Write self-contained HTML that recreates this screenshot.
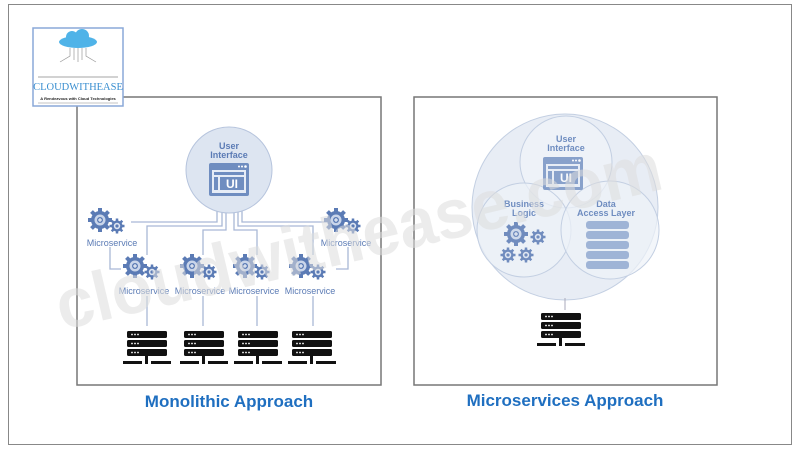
<!DOCTYPE html>
<html><head><meta charset="utf-8"><style>
html,body{margin:0;padding:0;background:#fff;width:800px;height:451px;overflow:hidden}
svg{display:block}
</style></head><body>
<svg width="800" height="451" viewBox="0 0 800 451" xmlns="http://www.w3.org/2000/svg" font-family="Liberation Sans, sans-serif">
<defs>
<g id="gb">
<circle r="9" fill="#5b7bb5"/>
<g stroke="#5b7bb5" stroke-width="4">
<line x1="0" y1="-12" x2="0" y2="12"/><line x1="-12" y1="0" x2="12" y2="0"/>
<line x1="-8.5" y1="-8.5" x2="8.5" y2="8.5"/><line x1="-8.5" y1="8.5" x2="8.5" y2="-8.5"/>
</g>
<circle r="5.5" fill="#c9d5ea"/><circle r="3" fill="#5b7bb5"/>
<path d="M-2 0h4M0 -2v4" stroke="#fff" stroke-width="1"/>
</g>
<g id="gs">
<circle r="5.5" fill="#5b7bb5"/>
<g stroke="#5b7bb5" stroke-width="2.5">
<line x1="0" y1="-7.5" x2="0" y2="7.5"/><line x1="-7.5" y1="0" x2="7.5" y2="0"/>
<line x1="-5.3" y1="-5.3" x2="5.3" y2="5.3"/><line x1="-5.3" y1="5.3" x2="5.3" y2="-5.3"/>
</g>
<circle r="3.2" fill="#dfe6f2"/><circle r="1.6" fill="#5b7bb5"/>
</g>
<g id="ms"><use href="#gb" x="0" y="0"/><use href="#gs" x="17" y="6"/></g>
<g id="srv">
<rect x="0" y="0" width="40" height="7" rx="1.5" fill="#111"/>
<rect x="0" y="9" width="40" height="7" rx="1.5" fill="#111"/>
<rect x="0" y="18" width="40" height="7" rx="1.5" fill="#111"/>
<g fill="#fff"><circle cx="5" cy="3.5" r="0.9"/><circle cx="8" cy="3.5" r="0.9"/><circle cx="11" cy="3.5" r="0.9"/>
<circle cx="5" cy="12.5" r="0.9"/><circle cx="8" cy="12.5" r="0.9"/><circle cx="11" cy="12.5" r="0.9"/>
<circle cx="5" cy="21.5" r="0.9"/><circle cx="8" cy="21.5" r="0.9"/><circle cx="11" cy="21.5" r="0.9"/></g>
<rect x="18" y="25" width="3" height="5" fill="#111"/>
<rect x="-4" y="30" width="19" height="3" fill="#111"/>
<rect x="18" y="30" width="3" height="3" fill="#111"/>
<rect x="24" y="30" width="20" height="3" fill="#111"/>
</g>
<g id="ui">
<rect x="0" y="0" width="40" height="33" rx="2" fill="#6f8dc0"/>
<rect x="3" y="7" width="34" height="23" fill="#e6ecf6"/>
<rect x="5" y="9" width="30" height="3" fill="#6f8dc0"/>
<rect x="5" y="14" width="4" height="13" fill="#6f8dc0"/>
<rect x="11" y="14" width="24" height="13" fill="#6f8dc0"/>
<text x="23" y="25" font-size="12" font-weight="bold" fill="#fff" text-anchor="middle">UI</text>
<circle cx="30" cy="3.5" r="1" fill="#fff"/><circle cx="33" cy="3.5" r="1" fill="#fff"/><circle cx="36.5" cy="3.5" r="1.3" fill="#fff"/>
</g>
</defs>
<rect x="8.5" y="4.5" width="783" height="440" fill="#fff" stroke="#888" stroke-width="1"/>

<!-- left panel -->
<rect x="77" y="97" width="304" height="288" fill="#fff" stroke="#777" stroke-width="1.5"/>
<g stroke="#a9b8d6" stroke-width="1.3" fill="none">
<path d="M217 210v12H131"/><path d="M222 210v16H147v29"/><path d="M226 210v20H203v25"/>
<path d="M234 210v20H257v25"/><path d="M238 210v16H313v29"/><path d="M242 210v12H327"/>
<path d="M110 247v22h11"/><path d="M348 247v22h-12"/>
<path d="M147 296v30M203 296v30M257 296v30M313 296v30"/>
</g>
<circle cx="229" cy="170" r="43" fill="#dde5f1" stroke="#b6c4dd" stroke-width="1"/>
<text x="229" y="149" font-size="9" font-weight="bold" fill="#5b7bb5" text-anchor="middle">User</text>
<text x="229" y="158" font-size="9" font-weight="bold" fill="#5b7bb5" text-anchor="middle">Interface</text>
<use href="#ui" x="209" y="163"/>
<use href="#ms" x="100" y="220"/><use href="#ms" x="336" y="220"/>
<use href="#ms" x="135" y="266"/><use href="#ms" x="192" y="266"/><use href="#ms" x="245" y="266"/><use href="#ms" x="301" y="266"/>
<g font-size="9" fill="#5b7bb5" text-anchor="middle">
<text x="112" y="246">Microservice</text><text x="346" y="246">Microservice</text>
<text x="144" y="294">Microservice</text><text x="200" y="294">Microservice</text><text x="254" y="294">Microservice</text><text x="310" y="294">Microservice</text>
</g>
<use href="#srv" x="127" y="331"/><use href="#srv" x="184" y="331"/><use href="#srv" x="238" y="331"/><use href="#srv" x="292" y="331"/>

<!-- right panel -->
<rect x="414" y="97" width="303" height="288" fill="#fff" stroke="#777" stroke-width="1.5"/>
<circle cx="565" cy="207" r="93" fill="#e8edf5" stroke="#c3cfe2" stroke-width="1"/>
<circle cx="566" cy="162" r="46" fill="#eef2f8" stroke="#c3cfe2" stroke-width="1"/>
<circle cx="524" cy="230" r="47" fill="#eef2f8" fill-opacity="0.7" stroke="#c3cfe2" stroke-width="1"/>
<circle cx="610" cy="230" r="49" fill="#eef2f8" fill-opacity="0.7" stroke="#c3cfe2" stroke-width="1"/>
<text x="566" y="142" font-size="9" font-weight="bold" fill="#6f8dc0" text-anchor="middle">User</text>
<text x="566" y="151" font-size="9" font-weight="bold" fill="#6f8dc0" text-anchor="middle">Interface</text>
<g opacity="0.8"><use href="#ui" x="543" y="157"/></g>
<text x="524" y="207" font-size="9" font-weight="bold" fill="#6f8dc0" text-anchor="middle">Business</text>
<text x="524" y="216" font-size="9" font-weight="bold" fill="#6f8dc0" text-anchor="middle">Logic</text>
<text x="606" y="207" font-size="9" font-weight="bold" fill="#6f8dc0" text-anchor="middle">Data</text>
<text x="606" y="216" font-size="9" font-weight="bold" fill="#6f8dc0" text-anchor="middle">Access Layer</text>
<g opacity="0.85"><use href="#gb" x="516" y="234"/><use href="#gs" x="538" y="237"/><use href="#gs" x="508" y="255"/><use href="#gs" x="526" y="255"/></g>
<g fill="#9fb4d6"><rect x="586" y="221" width="43" height="8" rx="3"/><rect x="586" y="231" width="43" height="8" rx="3"/><rect x="586" y="241" width="43" height="8" rx="3"/><rect x="586" y="251" width="43" height="8" rx="3"/><rect x="586" y="261" width="43" height="8" rx="3"/></g>
<path d="M565 298v12" stroke="#aab" stroke-width="1"/>
<use href="#srv" x="541" y="313"/>

<!-- watermark -->
<text x="62" y="330" font-size="70" font-weight="bold" fill="#dcdcdc" fill-opacity="0.55" textLength="620" lengthAdjust="spacingAndGlyphs" transform="rotate(-13.2 62 330)">cloudwithease.com</text>

<!-- logo -->
<rect x="33" y="28" width="90" height="78" fill="#fff" stroke="#8aa8d8" stroke-width="1.5"/>
<ellipse cx="78" cy="42" rx="19" ry="6" fill="#4fb3e8"/>
<circle cx="72" cy="37" r="6" fill="#4fb3e8"/><circle cx="82" cy="36" r="7" fill="#4fb3e8"/>
<g stroke="#999" stroke-width="0.7" fill="none"><path d="M70 48v8l-10 6M74 48v12M78 48v14M82 48v12M86 48v8l10 6"/></g>
<line x1="38" y1="77" x2="118" y2="77" stroke="#888" stroke-width="0.8"/>
<text x="78" y="90" font-family="Liberation Serif, serif" font-size="10.5" fill="#3a8fd0" text-anchor="middle">CLOUDWITHEASE</text>
<text x="78" y="100" font-size="4" font-weight="bold" fill="#222" text-anchor="middle">A Rendezvous with Cloud Technologies</text>
<line x1="38" y1="103" x2="118" y2="103" stroke="#888" stroke-width="0.6"/>

<text x="229" y="407" font-size="17" font-weight="bold" fill="#1f6fc0" text-anchor="middle">Monolithic Approach</text>
<text x="565" y="406" font-size="17" font-weight="bold" fill="#1f6fc0" text-anchor="middle">Microservices Approach</text>
</svg>
</body></html>
